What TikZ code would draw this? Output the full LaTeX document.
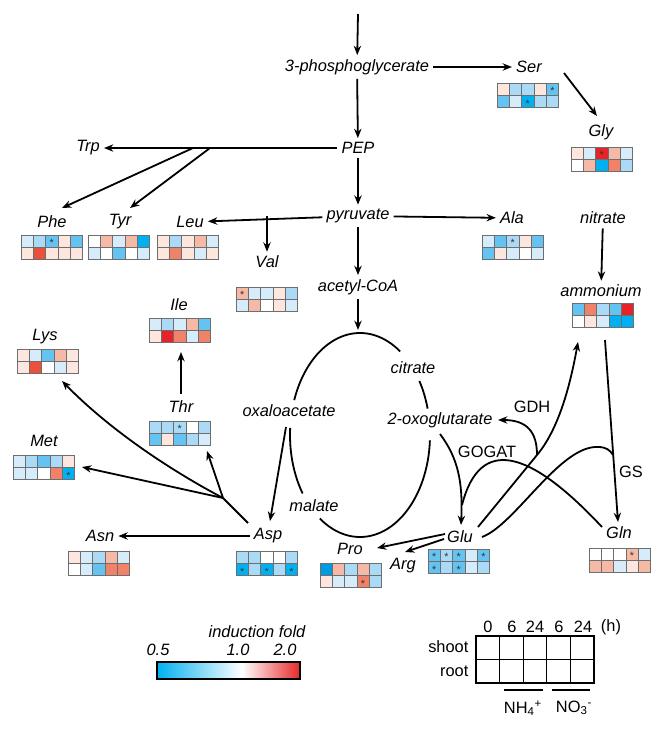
\documentclass[tikz,border=0pt]{standalone}
\usepackage{fontspec}
\setmainfont{Liberation Sans}
\usetikzlibrary{arrows.meta}
\definecolor{w}{RGB}{255,255,255}
\definecolor{b1}{RGB}{215,236,250}
\definecolor{b2}{RGB}{170,218,245}
\definecolor{b3}{RGB}{100,195,240}
\definecolor{b4}{RGB}{0,176,240}
\definecolor{b5}{RGB}{0,155,225}
\definecolor{r1}{RGB}{252,230,222}
\definecolor{r2}{RGB}{246,185,165}
\definecolor{r3}{RGB}{240,130,105}
\definecolor{r4}{RGB}{230,35,40}
\definecolor{rr}{RGB}{235,80,60}
\definecolor{cellline}{RGB}{110,110,110}
\definecolor{cbblue}{RGB}{0,176,240}
\definecolor{cbred}{RGB}{230,40,40}
\newcommand{\hmap}[3]{%
  \begin{scope}[shift={#1}]
    \foreach \hc/\hs [count=\hi from 0] in {#2} {
      \fill[\hc] (\hi*12.3,0) rectangle ++(12.3,12.3);
      \ifnum\hs=1 \node[hstar] at (\hi*12.3+6.15,8.2) {*};\fi
    }
    \foreach \hc/\hs [count=\hi from 0] in {#3} {
      \fill[\hc] (\hi*12.3,12.3) rectangle ++(12.3,12.3);
      \ifnum\hs=1 \node[hstar] at (\hi*12.3+6.15,20.5) {*};\fi
    }
    \foreach \hk in {1,2,3,4} {\draw[cellline,line width=0.6pt] (\hk*12.3,0) -- (\hk*12.3,24.6);}
    \draw[cellline,line width=0.6pt] (0,12.3) -- (61.5,12.3);
    \draw[cellline,line width=0.6pt] (0,0) rectangle (61.5,24.6);
  \end{scope}}
\begin{document}
\begin{tikzpicture}[x=0.75pt,y=-0.75pt,
  lbl/.style={font=\fontsize{12.3}{14}\selectfont\itshape, inner sep=3pt},
  up/.style={font=\fontsize{12.3}{14}\selectfont, inner sep=1pt},
  hstar/.style={font=\fontsize{8}{8}\selectfont, inner sep=0pt, text=black!80},
  line/.style={line width=1.35pt},
  arr/.style={line width=1.35pt, -{Stealth[length=7pt,width=5.5pt]}}]
\useasboundingbox (0,0) rectangle (665,729);

% labels
\node[lbl] (pg) at (357,67) {3-phosphoglycerate};
\node[lbl] (ser) at (529,67) {Ser};
\node[lbl] (gly) at (601,132) {Gly};
\node[lbl] (pep) at (358,148) {PEP};
\node[lbl] (trp) at (88,148) {Trp};
\node[lbl] (phe) at (52,222) {Phe};
\node[lbl] (tyr) at (120,222) {Tyr};
\node[lbl] (leu) at (190,222) {Leu};
\node[lbl] (pyr) at (358,216) {pyruvate};
\node[lbl] (val) at (267,262) {Val};
\node[lbl] (ala) at (512,218) {Ala};
\node[lbl] (nit) at (603,218) {nitrate};
\node[lbl] (amm) at (601,291) {ammonium};
\node[lbl] (acoa) at (358,287) {acetyl-CoA};
\node[lbl] (lys) at (45,337) {Lys};
\node[lbl] (ile) at (179,305) {Ile};
\node[lbl] (thr) at (181,407) {Thr};
\node[lbl] (met) at (44,441) {Met};
\node[lbl] (asn) at (100,536) {Asn};
\node[lbl] (asp) at (268,536) {Asp};
\node[lbl] (oaa) at (289,411) {oxaloacetate};
\node[lbl] (cit) at (413,368) {citrate};
\node[lbl] (oxo) at (440,420) {2-oxoglutarate};
\node[lbl] (mal) at (314,506) {malate};
\node[lbl] (glu) at (460,537) {Glu};
\node[lbl] (gln) at (619,533) {Gln};
\node[lbl] (pro) at (350,549) {Pro};
\node[lbl] (arg) at (403,566) {Arg};
\node[up] (gdh) at (532,407) {GDH};
\node[up] (gogat) at (487,452) {GOGAT};
\node[up] (gs) at (631,472) {GS};

% heatmaps
\hmap{(497,83)}{r1/0,b2/0,b2/0,r1/0,b3/1}{b3/0,b1/0,b4/1,b2/0,b2/0}
\hmap{(571,147)}{r1/0,b1/0,r4/1,r2/0,b1/0}{w/0,r2/0,b4/0,r3/0,b2/0}
\hmap{(21,235)}{b1/0,b2/0,b3/1,r1/0,b3/0}{r1/0,rr/0,r1/0,r1/0,r1/0}
\hmap{(88,235)}{w/0,r2/0,b1/0,r2/0,b4/0}{b1/0,w/0,b3/0,w/0,b1/0}
\hmap{(157,235)}{r1/0,b2/0,r1/0,r2/0,b1/0}{r1/0,r3/0,r1/0,b1/0,r1/0}
\hmap{(236,287)}{r2/1,b1/0,b1/0,r1/0,b2/0}{b1/0,r2/0,w/0,r1/0,b1/0}
\hmap{(482,235)}{b1/0,b3/0,b2/1,r1/0,b3/0}{b3/0,r1/0,b1/0,w/0,b1/0}
\hmap{(572,303)}{b3/0,r3/0,b2/0,b3/0,r4/0}{w/0,r1/0,b1/0,b4/0,b4/0}
\hmap{(17,349)}{r1/0,b1/0,b3/0,r2/0,r1/0}{r1/0,rr/0,w/0,b1/0,r1/0}
\hmap{(149,318)}{b1/0,b2/0,b1/0,r2/0,b3/0}{r1/0,r4/0,r3/0,b1/0,r3/0}
\hmap{(149,421)}{b2/0,b2/0,b2/1,w/0,b2/0}{b3/0,r1/0,b3/0,b2/0,b1/0}
\hmap{(13,455)}{b1/0,b2/0,b3/0,b2/0,r1/0}{b1/0,b1/0,w/0,r3/0,b4/1}
\hmap{(68,551)}{r1/0,b1/0,b2/0,r2/0,b1/0}{w/0,b1/0,b3/0,r3/0,r3/0}
\hmap{(236,551)}{b2/0,b2/0,w/0,w/0,b2/0}{b4/1,b2/0,b4/1,b2/0,b4/1}
\hmap{(320,563)}{b5/0,r2/0,b2/0,r2/0,b2/0}{r1/0,b1/0,b1/0,r3/1,b2/0}
\hmap{(428,549)}{b3/1,b2/1,b3/1,b1/0,b3/1}{b3/1,b2/0,b3/1,b1/0,b2/0}
\hmap{(589,548)}{w/0,w/0,w/0,r2/1,b1/0}{r2/0,r2/0,b1/0,r1/0,r2/0}

% coordinates
\coordinate (top0) at (358,14);
\coordinate (serst) at (564,73);
\coordinate (glytip) at (597,116);
\coordinate (br1) at (193,148);
\coordinate (br2) at (210,148);
\coordinate (phetip) at (62,208);
\coordinate (tyrtip) at (130,208);
\coordinate (valbr) at (267,216);
\coordinate (cycletop) at (358,330);
\coordinate (oaast) at (286,427);
\coordinate (asptip) at (270,521);
\coordinate (aspst) at (248,523);
\coordinate (jn) at (223,498);
\coordinate (mettip) at (82,467);
\coordinate (lystip) at (62,381);
\coordinate (thrtip) at (207,451);
\coordinate (thrst) at (181,394);
\coordinate (iletip) at (181,352);
\coordinate (oxost) at (440,434);
\coordinate (glutip) at (461,525);
\coordinate (glnst) at (602,527);
\coordinate (glnmerge) at (462,505);
\coordinate (glust) at (478,527);
\coordinate (gdhbr) at (537,455);
\coordinate (ammtip) at (578,342);
\coordinate (oxotip) at (498,420);
\coordinate (ammst) at (605,340);
\coordinate (glntip) at (618,522);
\coordinate (glust2) at (482,537);
\coordinate (gsmerge) at (613,455);
\coordinate (prost) at (445,534);
\coordinate (protip) at (377,548);
\coordinate (argst) at (444,539);
\coordinate (argtip) at (405,552);

% main trunk
\draw[arr] (top0) -- (pg);
\draw[arr] (pg) -- (pep);
\draw[arr] (pep) -- (pyr);
\draw[arr] (pyr) -- (acoa);
\draw[arr] (acoa) -- (cycletop);
\draw[arr] (pg) -- (ser);
\draw[arr] (serst) -- (glytip);
\draw[arr] (pep) -- (trp);
\draw[arr] (br1) -- (phetip);
\draw[arr] (br2) -- (tyrtip);
\draw[arr] (pyr) -- (leu);
\draw[arr] (valbr) -- (val);
\draw[arr] (pyr) -- (ala);
\draw[arr] (nit) -- (amm);

% TCA cycle
\draw[line] plot[domain=200:305,samples=60,smooth] ({360+70*cos(\x)},{435+102*sin(\x)});
\draw[line] plot[domain=328:345,samples=20,smooth] ({360+70*cos(\x)},{435+102*sin(\x)});
\draw[line] plot[domain=3:125,samples=60,smooth] ({360+70*cos(\x)},{435+102*sin(\x)});
\draw[line] plot[domain=145:184,samples=30,smooth] ({360+70*cos(\x)},{435+102*sin(\x)});

% aspartate family
\draw[arr] (oaast) -- (asptip);
\draw[arr] (asp) -- (asn);
\draw[line] (aspst) -- (jn);
\draw[arr] (jn) -- (mettip);
\draw[arr] (jn) .. controls (170,470) and (110,430) .. (lystip);
\draw[arr] (jn) -- (thrtip);
\draw[arr] (thrst) -- (iletip);

% nitrogen assimilation
\draw[arr] (oxost) .. controls (458,458) and (463,482) .. (glutip);
\draw[line] (glnst) .. controls (530,450) and (480,435) .. (glnmerge);
\draw[line] (glust) -- (gdhbr);
\draw[arr] (gdhbr) .. controls (557,431) and (569,392) .. (ammtip);
\draw[arr] (gdhbr) .. controls (537,432) and (527,420) .. (oxotip);
\draw[arr] (ammst) -- (glntip);
\draw[line] (glust2) .. controls (515,525) and (560,445) .. (598,447) .. controls (606,447) and (610,450) .. (gsmerge);
\draw[arr] (prost) -- (protip);
\draw[arr] (argst) -- (argtip);

% colour bar
\node[lbl, inner sep=1pt] (indf) at (257,632) {induction fold};
\node[lbl, inner sep=1pt] (c05) at (158,650) {0.5};
\node[lbl, inner sep=1pt] (c10) at (238,650) {1.0};
\node[lbl, inner sep=1pt] (c20) at (285,650) {2.0};
\shade[left color=cbblue, right color=white] (157,662) rectangle (242,679);
\shade[left color=white, right color=cbred] (242,662) rectangle (300,679);
\draw[line width=0.8pt] (157,662) rectangle (300,679);

% legend grid
\foreach \gk in {1,2,3,4} {\draw[line width=0.9pt] (476+\gk*23.6,636) -- (476+\gk*23.6,683);}
\draw[line width=0.9pt] (476,659.5) -- (594,659.5);
\draw[line width=0.9pt] (476,636) rectangle (594,683);
\node[up] (h0) at (488,627) {0};
\node[up] (h6a) at (512,627) {6};
\node[up] (h24a) at (535,627) {24};
\node[up] (h6b) at (559,627) {6};
\node[up] (h24b) at (583,627) {24};
\node[up] (hh) at (611,627) {(h)};
\node[up, anchor=east] (shoot) at (470,647) {shoot};
\node[up, anchor=east] (root) at (470,671) {root};
\draw[line width=0.9pt] (504,690) -- (543,690);
\draw[line width=0.9pt] (552,690) -- (590,690);
\node[up] (nh4) at (523,708) {NH\textsubscript{4}\textsuperscript{+}};
\node[up] (no3) at (574,708) {NO\textsubscript{3}\textsuperscript{-}};
\end{tikzpicture}
\end{document}
